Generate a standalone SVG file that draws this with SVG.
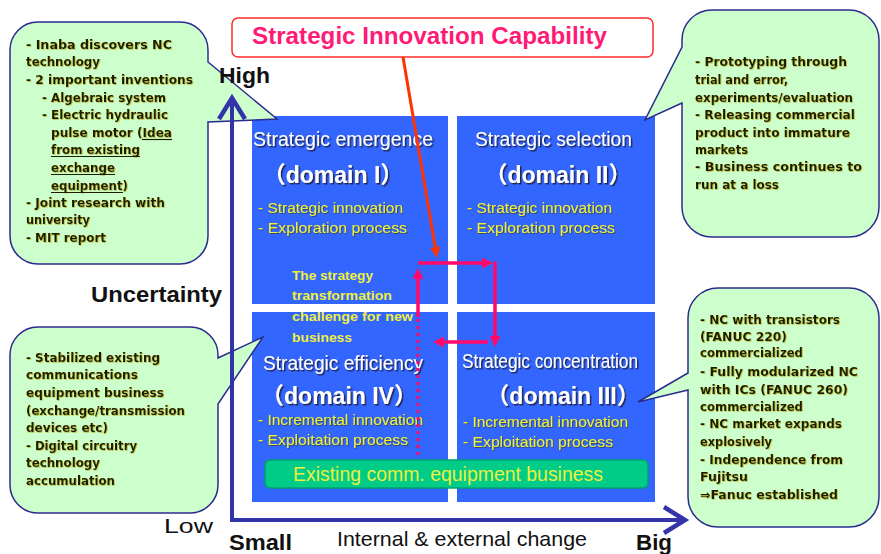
<svg xmlns="http://www.w3.org/2000/svg" width="881" height="554" viewBox="0 0 881 554">
<style>
.q{fill:#3366ff;}
.co{font-family:"DejaVu Sans",sans-serif;font-weight:bold;font-size:12.4px;fill:#1e1e00;filter:url(#ysh);}
.cb{fill:#ccffcc;stroke:#2b2b8f;stroke-width:1.5;}
.ul{stroke:#1e1e00;stroke-width:1.2;}
.hd{font-family:"Liberation Sans",sans-serif;font-size:20px;fill:#ffffff;filter:url(#dsh);}
.dm{font-family:"Liberation Sans","Noto Sans CJK JP",sans-serif;font-weight:bold;font-size:23px;fill:#ffffff;text-anchor:middle;filter:url(#dsh);}
.yl{font-family:"Liberation Sans",sans-serif;font-size:15.5px;fill:#eef03c;filter:url(#dsh2);}
.ch{font-family:"Liberation Sans",sans-serif;font-weight:bold;font-size:13.5px;fill:#eef03c;}
.ax{font-family:"Liberation Sans",sans-serif;font-weight:bold;font-size:22px;fill:#111111;}
.axn{font-family:"Liberation Sans",sans-serif;font-size:21px;fill:#111111;}
.pk{stroke:#ff0a6a;stroke-width:3.5;fill:none;}
.axl{stroke:#3333aa;stroke-width:4;fill:none;}
</style>
<defs>
<filter id="dsh" x="-5%" y="-20%" width="110%" height="140%"><feDropShadow dx="1.5" dy="1.5" stdDeviation="0.6" flood-color="#1a1a40" flood-opacity="0.9"/></filter>
<filter id="dsh2" x="-5%" y="-20%" width="110%" height="140%"><feDropShadow dx="0.8" dy="0.8" stdDeviation="0.4" flood-color="#333300" flood-opacity="0.7"/></filter>
<filter id="ysh" x="-5%" y="-20%" width="110%" height="140%"><feDropShadow dx="0.7" dy="0.7" stdDeviation="0.3" flood-color="#b0a000" flood-opacity="0.8"/></filter>
<marker id="chev" markerUnits="userSpaceOnUse" viewBox="-28 -18 34 36" markerWidth="34" markerHeight="36" refX="0" refY="0" orient="auto" overflow="visible">
<path d="M -21 -13 L 0 0 L -21 13" fill="none" stroke="#3333aa" stroke-width="4.5"/>
</marker>
<marker id="ph" markerUnits="userSpaceOnUse" viewBox="-4 -8 16 16" markerWidth="16" markerHeight="16" refX="0" refY="0" orient="auto" overflow="visible">
<path d="M 9 0 L -2 -5.5 L -2 5.5 Z" fill="#ff0a6a"/>
</marker>
<marker id="rh" markerUnits="userSpaceOnUse" viewBox="-4 -8 16 16" markerWidth="16" markerHeight="16" refX="0" refY="0" orient="auto" overflow="visible">
<path d="M 9 0 L -2 -5 L -2 5 Z" fill="#ff3300"/>
</marker>
</defs>
<rect width="881" height="554" fill="#ffffff"/>

<g id="title">
<rect x="232" y="18" width="421" height="39" rx="6" fill="#ffffff" stroke="#ff2a2a" stroke-width="1.5"/>
<text x="252" y="44" font-family="Liberation Sans, sans-serif" font-weight="bold" font-size="23" fill="#ff1a75" textLength="355" lengthAdjust="spacingAndGlyphs">Strategic Innovation Capability</text>
</g>

<g id="domain1">
<rect class="q" x="252" y="116" width="196" height="188"/>
<text class="hd" x="253" y="146" textLength="180" lengthAdjust="spacingAndGlyphs">Strategic emergence</text>
<text class="dm" x="333" y="183">（domain I）</text>
<text class="yl" x="258" y="213" textLength="145" lengthAdjust="spacingAndGlyphs">- Strategic innovation</text>
<text class="yl" x="258" y="233" textLength="149" lengthAdjust="spacingAndGlyphs">- Exploration process</text>
</g>
<g id="domain2">
<rect class="q" x="457" y="116" width="198" height="188"/>
<text class="hd" x="475" y="146" textLength="157" lengthAdjust="spacingAndGlyphs">Strategic selection</text>
<text class="dm" x="558" y="183">（domain II）</text>
<text class="yl" x="467" y="213" textLength="145" lengthAdjust="spacingAndGlyphs">- Strategic innovation</text>
<text class="yl" x="467" y="233" textLength="148" lengthAdjust="spacingAndGlyphs">- Exploration process</text>
</g>
<g id="domain4">
<rect class="q" x="252" y="312" width="196" height="190"/>
<text class="hd" x="263" y="370" textLength="160" lengthAdjust="spacingAndGlyphs">Strategic efficiency</text>
<text class="dm" x="339" y="404">（domain IV）</text>
<text class="yl" x="258" y="425" textLength="165" lengthAdjust="spacingAndGlyphs">- Incremental innovation</text>
<text class="yl" x="258" y="445" textLength="150" lengthAdjust="spacingAndGlyphs">- Exploitation process</text>
</g>
<g id="domain3">
<rect class="q" x="457" y="312" width="198" height="190"/>
<text class="hd" x="462" y="368" textLength="176" lengthAdjust="spacingAndGlyphs">Strategic concentration</text>
<text class="dm" x="563" y="404">（domain III）</text>
<text class="yl" x="463" y="427" textLength="165" lengthAdjust="spacingAndGlyphs">- Incremental innovation</text>
<text class="yl" x="463" y="447" textLength="150" lengthAdjust="spacingAndGlyphs">- Exploitation process</text>
</g>

<g id="existing-business">
<rect x="265" y="460" width="383" height="28" rx="5" fill="#00cc88" stroke="#00a070" stroke-width="1.5"/>
<text x="293" y="481" font-family="Liberation Sans, sans-serif" font-size="20" fill="#eef03c" textLength="310" lengthAdjust="spacingAndGlyphs">Existing comm. equipment business</text>
</g>

<g id="transformation-label">
<text class="ch" x="292" y="280" textLength="81" lengthAdjust="spacingAndGlyphs">The strategy</text>
<text class="ch" x="292" y="300" textLength="100" lengthAdjust="spacingAndGlyphs">transformation</text>
<text class="ch" x="292" y="321" textLength="121" lengthAdjust="spacingAndGlyphs">challenge for new</text>
<text class="ch" x="292" y="342" textLength="60" lengthAdjust="spacingAndGlyphs">business</text>
</g>

<g id="callout-tl">
<path class="cb" d="M 38 22 H 180 A 28 28 0 0 1 208 50 V 62 L 277 119 L 208 122 V 236 A 28 28 0 0 1 180 264 H 38 A 28 28 0 0 1 10 236 V 50 A 28 28 0 0 1 38 22 Z"/>
<text class="co" x="26" y="49" textLength="146" lengthAdjust="spacingAndGlyphs">- Inaba discovers NC</text>
<text class="co" x="26" y="66" textLength="74" lengthAdjust="spacingAndGlyphs">technology</text>
<text class="co" x="26" y="84" textLength="167" lengthAdjust="spacingAndGlyphs">- 2 important inventions</text>
<text class="co" x="42" y="102" textLength="124" lengthAdjust="spacingAndGlyphs">- Algebraic system</text>
<text class="co" x="42" y="119" textLength="126" lengthAdjust="spacingAndGlyphs">- Electric hydraulic</text>
<text class="co" x="51" y="137" textLength="121" lengthAdjust="spacingAndGlyphs">pulse motor (Idea</text>
<text class="co" x="51" y="154" textLength="89" lengthAdjust="spacingAndGlyphs">from existing</text>
<text class="co" x="51" y="172" textLength="64" lengthAdjust="spacingAndGlyphs">exchange</text>
<text class="co" x="51" y="190" textLength="77" lengthAdjust="spacingAndGlyphs">equipment)</text>
<line class="ul" x1="142" y1="139.5" x2="172" y2="139.5"/>
<line class="ul" x1="51" y1="156.5" x2="140" y2="156.5"/>
<line class="ul" x1="51" y1="174.5" x2="115" y2="174.5"/>
<line class="ul" x1="51" y1="192.5" x2="123" y2="192.5"/>
<text class="co" x="26" y="207" textLength="139" lengthAdjust="spacingAndGlyphs">- Joint research with</text>
<text class="co" x="26" y="224" textLength="64" lengthAdjust="spacingAndGlyphs">university</text>
<text class="co" x="26" y="242" textLength="80" lengthAdjust="spacingAndGlyphs">- MIT report</text>
</g>

<g id="callout-tr">
<path class="cb" d="M 712 10 H 849 A 30 30 0 0 1 879 40 V 207 A 30 30 0 0 1 849 237 H 712 A 30 30 0 0 1 682 207 V 103 L 645 120 L 682 47 V 40 A 30 30 0 0 1 712 10 Z"/>
<text class="co" x="695" y="66" textLength="152" lengthAdjust="spacingAndGlyphs">- Prototyping through</text>
<text class="co" x="695" y="84" textLength="93" lengthAdjust="spacingAndGlyphs">trial and error,</text>
<text class="co" x="695" y="102" textLength="158" lengthAdjust="spacingAndGlyphs">experiments/evaluation</text>
<text class="co" x="695" y="119" textLength="160" lengthAdjust="spacingAndGlyphs">- Releasing commercial</text>
<text class="co" x="695" y="137" textLength="155" lengthAdjust="spacingAndGlyphs">product into immature</text>
<text class="co" x="695" y="154" textLength="53" lengthAdjust="spacingAndGlyphs">markets</text>
<text class="co" x="695" y="171" textLength="167" lengthAdjust="spacingAndGlyphs">- Business continues to</text>
<text class="co" x="695" y="189" textLength="84" lengthAdjust="spacingAndGlyphs">run at a loss</text>
</g>

<g id="callout-bl">
<path class="cb" d="M 38 327 H 190 A 28 28 0 0 1 218 355 V 358 L 263 337 L 218 404 V 485 A 28 28 0 0 1 190 513 H 38 A 28 28 0 0 1 10 485 V 355 A 28 28 0 0 1 38 327 Z"/>
<text class="co" x="26" y="362" textLength="134" lengthAdjust="spacingAndGlyphs">- Stabilized existing</text>
<text class="co" x="26" y="379" textLength="112" lengthAdjust="spacingAndGlyphs">communications</text>
<text class="co" x="26" y="397" textLength="138" lengthAdjust="spacingAndGlyphs">equipment business</text>
<text class="co" x="26" y="415" textLength="159" lengthAdjust="spacingAndGlyphs">(exchange/transmission</text>
<text class="co" x="26" y="432" textLength="82" lengthAdjust="spacingAndGlyphs">devices etc)</text>
<text class="co" x="26" y="450" textLength="111" lengthAdjust="spacingAndGlyphs">- Digital circuitry</text>
<text class="co" x="26" y="467" textLength="74" lengthAdjust="spacingAndGlyphs">technology</text>
<text class="co" x="26" y="485" textLength="89" lengthAdjust="spacingAndGlyphs">accumulation</text>
</g>

<g id="callout-br">
<path class="cb" d="M 718 288 H 849 A 30 30 0 0 1 879 318 V 497 A 30 30 0 0 1 849 527 H 718 A 30 30 0 0 1 688 497 V 390 L 638 402 L 688 373 V 318 A 30 30 0 0 1 718 288 Z"/>
<text class="co" x="700" y="324" textLength="140" lengthAdjust="spacingAndGlyphs">- NC with transistors</text>
<text class="co" x="700" y="341" textLength="87" lengthAdjust="spacingAndGlyphs">(FANUC 220)</text>
<text class="co" x="700" y="357" textLength="103" lengthAdjust="spacingAndGlyphs">commercialized</text>
<text class="co" x="700" y="376" textLength="158" lengthAdjust="spacingAndGlyphs">- Fully modularized NC</text>
<text class="co" x="700" y="394" textLength="148" lengthAdjust="spacingAndGlyphs">with ICs (FANUC 260)</text>
<text class="co" x="700" y="411" textLength="103" lengthAdjust="spacingAndGlyphs">commercialized</text>
<text class="co" x="700" y="428" textLength="142" lengthAdjust="spacingAndGlyphs">- NC market expands</text>
<text class="co" x="700" y="446" textLength="72" lengthAdjust="spacingAndGlyphs">explosively</text>
<text class="co" x="700" y="464" textLength="143" lengthAdjust="spacingAndGlyphs">- Independence from</text>
<text class="co" x="700" y="481" textLength="48" lengthAdjust="spacingAndGlyphs">Fujitsu</text>
<text class="co" x="700" y="499" textLength="138" lengthAdjust="spacingAndGlyphs">⇒Fanuc established</text>
</g>

<g id="connectors">
<line x1="403" y1="57" x2="435.5" y2="249.1" stroke="#ff3300" stroke-width="3" marker-end="url(#rh)"/>
<line class="pk" x1="418" y1="317" x2="418" y2="277" marker-end="url(#ph)"/>
<line class="pk" x1="418" y1="263" x2="484" y2="263" marker-end="url(#ph)"/>
<line class="pk" x1="495" y1="261.5" x2="495" y2="338" marker-end="url(#ph)"/>
<line class="pk" x1="488" y1="342" x2="442" y2="342" marker-end="url(#ph)"/>
<line x1="418" y1="319" x2="418" y2="458" stroke="#ff0a6a" stroke-width="3" stroke-dasharray="3 4"/>
<line class="axl" x1="232" y1="522" x2="232" y2="98" marker-end="url(#chev)"/>
<line class="axl" x1="230" y1="520" x2="685" y2="520" marker-end="url(#chev)"/>
</g>

<g id="axis-labels">
<text class="ax" x="219" y="83" textLength="51" lengthAdjust="spacingAndGlyphs">High</text>
<text class="ax" x="91" y="302" textLength="131" lengthAdjust="spacingAndGlyphs">Uncertainty</text>
<text class="axn" x="164" y="533" font-size="23" textLength="49" lengthAdjust="spacingAndGlyphs">Low</text>
<text class="ax" x="229" y="550" font-size="21" textLength="63" lengthAdjust="spacingAndGlyphs">Small</text>
<text class="axn" x="337" y="546" textLength="250" lengthAdjust="spacingAndGlyphs">Internal &amp; external change</text>
<text class="ax" x="636" y="550" textLength="36" lengthAdjust="spacingAndGlyphs">Big</text>
</g>
</svg>
